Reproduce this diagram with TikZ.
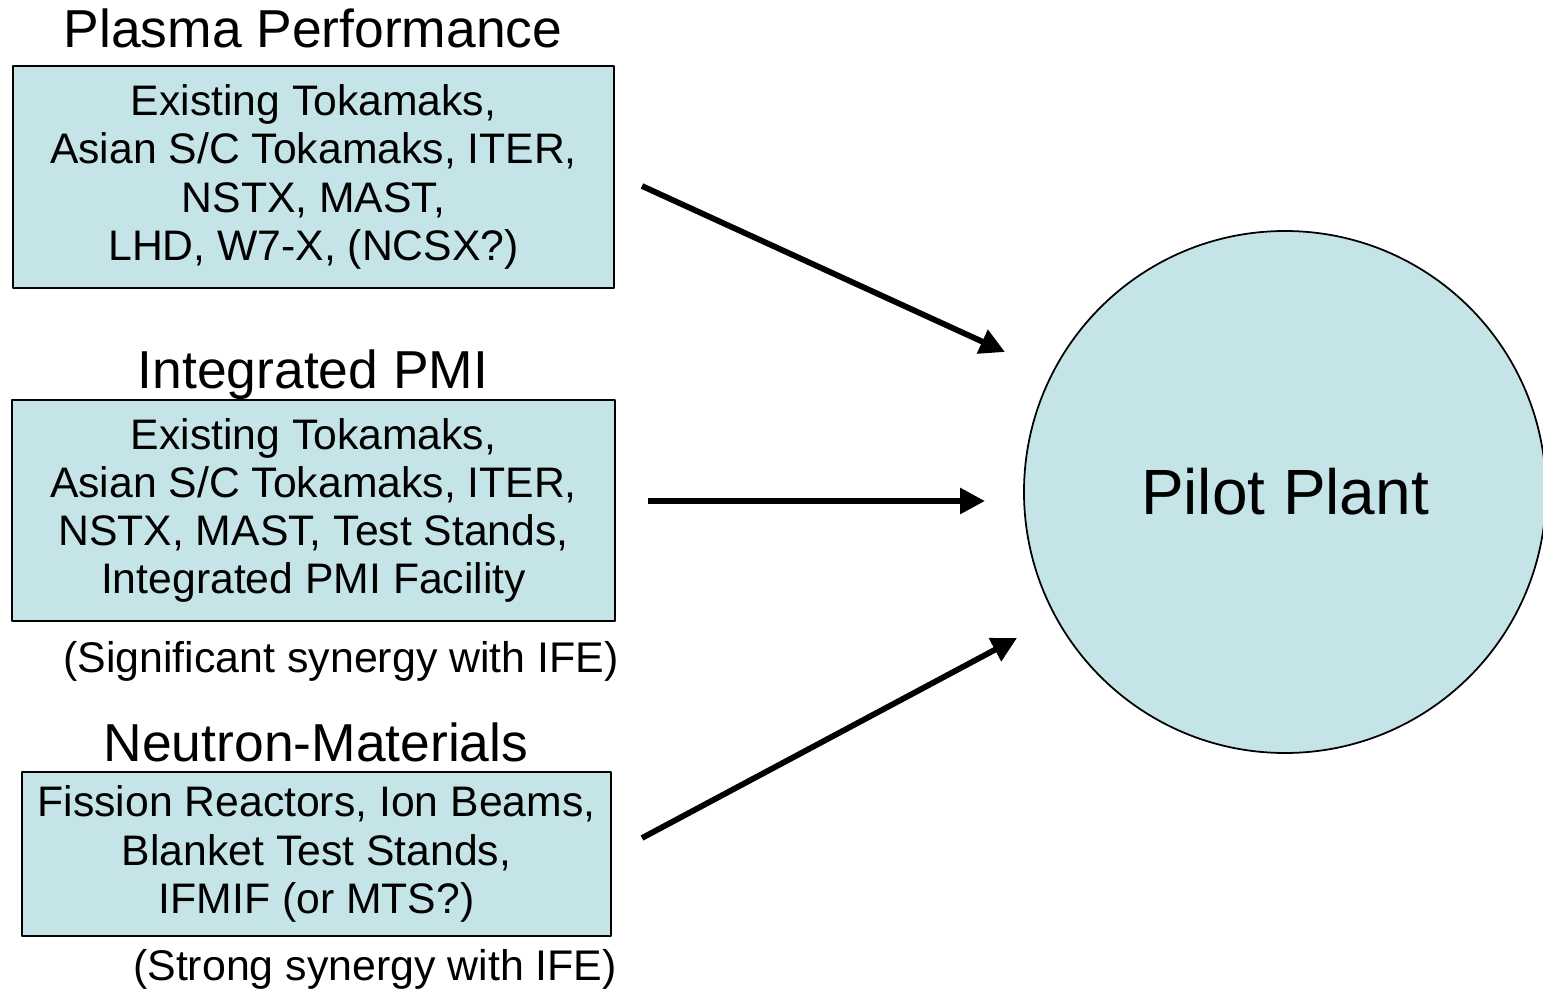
\documentclass[tikz,border=0pt]{standalone}
\usepackage{fontspec}
\setmainfont{Liberation Sans}
\usetikzlibrary{arrows.meta}
\definecolor{boxcyan}{HTML}{C4E4E8}
\begin{document}
\begin{tikzpicture}[line join=round, >={Triangle[length=2.5mm,width=2.5mm]},
	facility/.style={draw, line width=0.6pt, fill=boxcyan, align=center, inner sep=0pt, font=\fontsize{12.15}{13.7}\selectfont},
	heading/.style={anchor=base, font=\fontsize{15.2}{18}\selectfont},
	remark/.style={anchor=base, font=\fontsize{12.2}{14}\selectfont},
	flow/.style={->, line width=1.65pt}]
	\useasboundingbox (0,0) rectangle (15.43,9.89);
	%% the three input areas
	\node[heading] (tplasma) at (3.13,9.42) {Plasma Performance};
	\node[facility, minimum width=6.01cm, minimum height=2.22cm] (plasma) at (3.135,8.12)
	{Existing Tokamaks,\\Asian S/C Tokamaks, ITER,\\NSTX, MAST,\\LHD, W7-X, (NCSX?)};
	\node[heading] (tpmi) at (3.13,6.01) {Integrated PMI};
	\node[facility, minimum width=6.03cm, minimum height=2.21cm] (pmi) at (3.135,4.785)
	{Existing Tokamaks,\\Asian S/C Tokamaks, ITER,\\NSTX, MAST, Test Stands,\\Integrated PMI Facility};
	\node[remark] (npmi) at (3.41,3.17) {(Significant synergy with IFE)};
	\node[heading] (tneutron) at (3.16,2.28) {Neutron-Materials};
	\node[facility, minimum width=5.89cm, minimum height=1.64cm] (neutron) at (3.165,1.35)
	{Fission Reactors, Ion Beams,\\Blanket Test Stands,\\IFMIF (or MTS?)};
	\node[remark] (nneutron) at (3.75,0.09) {(Strong synergy with IFE)};
	%% the goal
	\node[draw, circle, fill=boxcyan, minimum size=5.22cm, inner sep=0pt, line width=0.5pt,
	font=\fontsize{18.2}{21}\selectfont] (pilot) at (12.85,4.97) {Pilot Plant};
	%% arrows
	\coordinate (s1) at (6.42,8.03);
	\coordinate (e1) at (10.05,6.37);
	\coordinate (s2) at (6.48,4.88);
	\coordinate (e2) at (9.85,4.88);
	\coordinate (s3) at (6.42,1.51);
	\coordinate (e3) at (10.17,3.51);
	\foreach \i in {1,2,3}
	\draw[flow] (s\i) -- (e\i);
\end{tikzpicture}
\end{document}
